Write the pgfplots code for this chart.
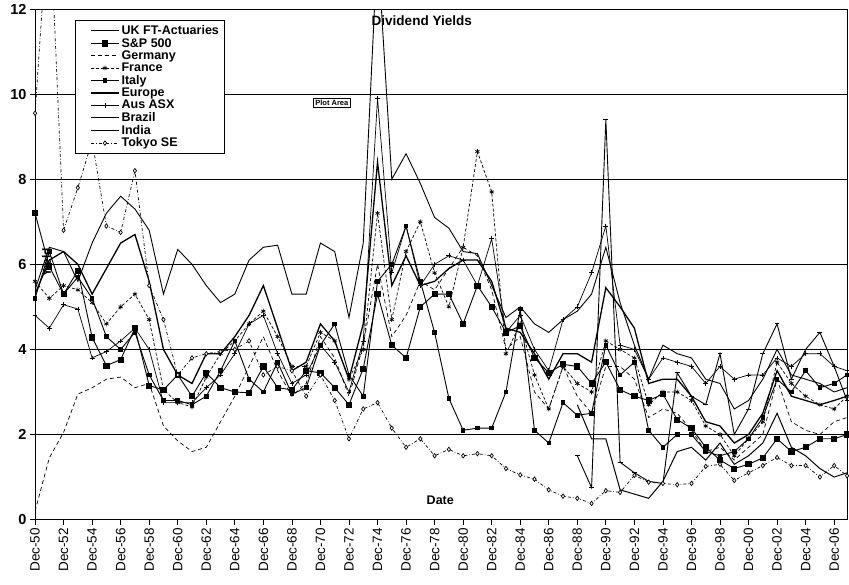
\documentclass[border=0pt]{standalone}
\usepackage{pgfplots}
\pgfplotsset{compat=1.18}
\usepackage{pgfplotstable}
\usepackage{fontspec}
\setmainfont{Liberation Sans}

% yr uk sp ger fra ita eur aus bra ind tok
\pgfplotstableread{
yr     uk    sp    ger   fra   ita   eur   aus   bra   ind   tok
1950   5.4   7.2   0.2   5.6   5.2   5.3   4.8   nan   nan   9.55
1951   6.4   5.95  1.45  5.2   6.3   6.1   4.5   nan   nan   14.5
1952   6.3   5.3   2.05  5.5   5.3   6.3   5.05  nan   nan   6.8
1953   5.6   5.85  2.95  5.4   5.7   6.0   4.95  nan   nan   7.8
1954   6.5   4.28  3.1   5.1   5.2   5.3   3.8   nan   nan   8.9
1955   7.2   3.62  3.3   4.6   4.3   5.9   3.95  nan   nan   6.9
1956   7.6   3.76  3.35  5.0   4.0   6.5   4.2   nan   nan   6.75
1957   7.3   4.5   3.1   5.3   4.4   6.7   4.5   nan   nan   8.2
1958   6.8   3.15  3.2   4.7   3.4   5.6   4.0   nan   nan   5.5
1959   5.3   3.05  2.2   3.05  2.8   4.0   2.75  nan   nan   4.7
1960   6.35  3.4   1.85  2.75  2.8   3.4   2.75  nan   nan   3.4
1961   6.0   2.9   1.6   2.65  2.7   3.2   2.75  nan   nan   3.8
1962   5.5   3.45  1.7   3.35  2.9   3.9   3.1   nan   nan   3.9
1963   5.1   3.1   2.3   3.9   3.5   3.9   3.4   nan   nan   3.95
1964   5.3   3.0   2.9   4.2   4.2   4.3   3.9   nan   nan   4.0
1965   6.1   2.98  3.6   4.6   3.3   4.8   4.6   nan   nan   4.2
1966   6.4   3.6   4.3   4.9   3.0   5.5   4.8   nan   nan   3.4
1967   6.45  3.1   3.5   4.3   3.7   4.5   3.9   nan   nan   3.6
1968   5.3   3.05  2.9   3.6   2.95  3.5   3.2   nan   nan   3.5
1969   5.3   3.5   3.2   3.6   3.1   3.7   3.4   nan   nan   2.9
1970   6.5   3.45  4.3   4.4   4.1   4.6   4.1   nan   nan   3.4
1971   6.3   3.1   3.8   4.2   4.6   4.2   3.7   nan   nan   2.8
1972   4.75  2.7   2.9   3.3   3.4   3.3   3.0   nan   nan   1.9
1973   6.5   3.55  4.1   4.0   2.9   4.6   4.2   nan   nan   2.6
1974   13.5  5.3   6.0   7.2   5.6   8.4   9.9   nan   nan   2.75
1975   8.0   4.1   4.3   4.7   6.0   5.5   5.8   nan   nan   2.15
1976   8.6   3.8   4.8   6.3   6.9   6.2   6.9   nan   nan   1.7
1977   7.9   5.0   5.6   7.0   5.6   5.5   5.5   nan   nan   1.9
1978   7.1   5.3   5.4   5.8   4.4   5.6   6.0   nan   nan   1.5
1979   6.85  5.3   5.9   5.0   2.85  5.9   6.2   nan   nan   1.65
1980   6.3   4.6   6.4   6.4   2.1   6.1   6.1   nan   nan   1.5
1981   6.25  5.5   6.2   8.65  2.15  6.1   5.5   nan   nan   1.55
1982   5.5   5.0   5.4   7.7   2.15  5.6   6.6   nan   nan   1.5
1983   4.75  4.4   4.0   3.9   3.0   4.5   4.4   nan   nan   1.2
1984   5.0   4.55  4.3   4.6   4.95  4.4   4.8   nan   nan   1.05
1985   4.6   3.8   3.0   3.4   2.1   3.9   4.0   nan   nan   0.95
1986   4.4   3.45  2.6   2.6   1.8   3.3   3.5   nan   nan   0.7
1987   4.7   3.65  3.6   3.6   2.75  3.9   4.7   nan   nan   0.55
1988   4.9   3.6   2.9   3.2   2.45  3.9   5.0   1.5   2.7   0.5
1989   5.3   3.2   2.5   3.0   2.5   3.7   5.8   0.75  1.9   0.38
1990   6.4   3.7   3.6   4.2   4.1   5.45  6.9   9.4   1.9   0.68
1991   5.1   3.05  3.6   4.0   3.4   5.0   4.1   1.35  0.7   0.64
1992   4.1   2.9   3.3   3.8   3.7   4.5   4.0   1.1   0.6   1.04
1993   3.3   2.8   2.4   2.7   2.1   3.2   3.3   0.9   0.5   0.88
1994   4.1   2.95  2.6   3.0   1.7   3.3   3.8   0.85  0.9   0.85
1995   3.9   2.35  2.5   3.0   2.0   3.3   3.7   3.45  1.6   0.82
1996   3.8   2.15  2.1   2.8   2.0   2.9   3.6   2.9   1.7   0.85
1997   3.3   1.7   1.6   2.2   1.6   2.3   3.2   2.7   1.4   1.25
1998   3.2   1.4   1.7   2.0   1.5   2.2   3.6   3.9   1.8   1.3
1999   2.6   1.2   1.4   1.5   1.6   1.8   3.3   2.0   1.3   0.92
2000   2.8   1.3   1.7   1.9   1.9   2.0   3.4   2.6   1.5   1.1
2001   3.3   1.45  2.0   2.3   2.4   2.5   3.4   3.9   1.8   1.27
2002   4.0   1.9   3.3   3.7   3.3   3.5   3.8   4.6   2.5   1.46
2003   3.4   1.6   2.3   3.2   3.0   2.9   3.6   3.3   1.7   1.27
2004   3.3   1.7   2.1   2.9   3.5   2.8   3.9   4.0   1.5   1.27
2005   3.2   1.9   2.0   2.7   3.1   2.7   3.9   4.4   1.2   1.0
2006   3.0   1.9   2.3   2.6   3.2   2.8   3.6   3.6   1.0   1.27
2006.9 3.1   2.0   2.4   2.9   3.4   2.9   3.5   2.8   1.1   1.03
}\divtable

\begin{document}
\begin{tikzpicture}
\begin{axis}[
    scale only axis,
    width=811pt, height=510pt,
    xmin=1950, xmax=2006.9,
    ymin=0, ymax=12,
    ytick={0,2,...,12},
    xtick={1950,1952,...,2006},
    xticklabels={Dec-50,Dec-52,Dec-54,Dec-56,Dec-58,Dec-60,Dec-62,Dec-64,Dec-66,Dec-68,Dec-70,Dec-72,Dec-74,Dec-76,Dec-78,Dec-80,Dec-82,Dec-84,Dec-86,Dec-88,Dec-90,Dec-92,Dec-94,Dec-96,Dec-98,Dec-00,Dec-02,Dec-04,Dec-06},
    xticklabel style={rotate=90, anchor=east, font=\fontsize{13.5}{14}\selectfont},
    yticklabel style={font=\fontsize{14.5}{15}\selectfont\bfseries},
    /pgf/number format/assume math mode=true,
    xtick pos=bottom, ytick pos=left,
    tick align=outside,
    major tick length=5pt,
    tick style={black, line width=0.8pt},
    axis line style={black, line width=0.9pt},
    ymajorgrids,
    grid style={black, line width=1pt},
    unbounded coords=jump,
    legend cell align=left,
    legend style={at={(0.049,0.978)}, anchor=north west, draw=black, line width=0.8pt,
        fill=white, font=\fontsize{12.5}{13}\selectfont\bfseries, row sep=-1.9pt, inner sep=3pt},
    legend image code/.code={\path (0pt,0pt); \draw[mark repeat=2,mark phase=2,#1] plot coordinates {(12pt,0pt) (26pt,0pt) (40pt,0pt)};},
]
\addplot[black, line width=0.9pt] table[x=yr, y=uk] {\divtable};
\addlegendentry{UK FT-Actuaries}
\addplot[black, line width=0.9pt, mark=square*, mark size=2.6pt] table[x=yr, y=sp] {\divtable};
\addlegendentry{S\&P 500}
\addplot[black, line width=0.7pt, dash pattern=on 4pt off 3pt] table[x=yr, y=ger] {\divtable};
\addlegendentry{Germany}
\addplot[black, line width=0.7pt, densely dashed, mark=asterisk, mark size=2.4pt, mark options={solid}] table[x=yr, y=fra] {\divtable};
\addlegendentry{France}
\addplot[black, line width=0.9pt, mark=square*, mark size=1.8pt] table[x=yr, y=ita] {\divtable};
\addlegendentry{Italy}
\addplot[black, line width=1.3pt] table[x=yr, y=eur] {\divtable};
\addlegendentry{Europe}
\addplot[black, line width=0.7pt, mark=+, mark size=2.4pt] table[x=yr, y=aus] {\divtable};
\addlegendentry{Aus ASX}
\addplot[black, line width=0.9pt, mark=-, mark size=2.4pt] table[x=yr, y=bra] {\divtable};
\addlegendentry{Brazil}
\addplot[black, line width=1pt] table[x=yr, y=ind] {\divtable};
\addlegendentry{India}
\addplot[black, line width=0.7pt, dash dot, mark=diamond*, mark size=2.2pt, mark options={solid, fill=white}] table[x=yr, y=tok] {\divtable};
\addlegendentry{Tokyo SE}

\node[font=\fontsize{13.5}{14}\selectfont\bfseries] at (axis cs:1977.1,11.72) {Dividend Yields};
\node[font=\fontsize{12.5}{13}\selectfont\bfseries] at (axis cs:1978.4,0.45) {Date};
\node[font=\fontsize{12}{13}\selectfont\bfseries, rotate=90] at (axis cs:1950.8,6.05) {Yield};
\node[draw=black, fill=white, line width=0.6pt, inner sep=2pt, font=\fontsize{7.5}{8}\selectfont\bfseries] at (axis cs:1970.8,9.8) {Plot Area};
\end{axis}
\pgfresetboundingbox
\path[use as bounding box] ([xshift=-35pt,yshift=-65pt]current axis.south west) rectangle ([xshift=2pt,yshift=9pt]current axis.north east);
\end{tikzpicture}
\end{document}
